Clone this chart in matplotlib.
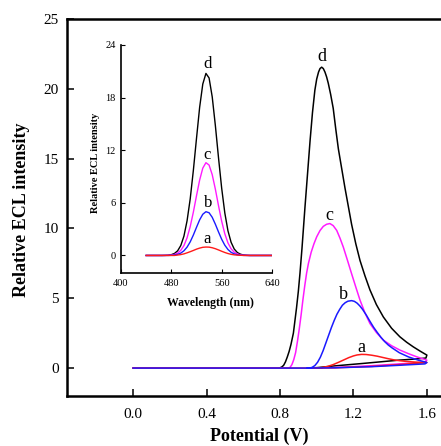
import numpy as np
import matplotlib
matplotlib.use("Agg")
import matplotlib.pyplot as plt

plt.rcParams['font.family'] = ['Liberation Serif', 'DejaVu Serif']

# ---- main panel: ECL intensity vs potential (forward scan then reverse scan)
pot_d = [0.0, 0.79, 0.80, 0.81, 0.82, 0.83, 0.84, 0.85, 0.86, 0.873, 0.89, 0.90, 0.909, 0.92,
         0.936, 0.95, 0.964, 0.977, 0.99, 1.0, 1.01, 1.018, 1.027, 1.036, 1.045, 1.054, 1.063,
         1.076, 1.09, 1.104, 1.118, 1.136, 1.154, 1.172, 1.19, 1.213, 1.236, 1.263, 1.29,
         1.325, 1.363, 1.408, 1.453, 1.49, 1.526, 1.565, 1.6,
         1.595, 1.55, 1.45, 1.35, 1.25, 1.11, 1.0, 0.95]
int_d = [0, 0, 0.02, 0.08, 0.2, 0.45, 0.8, 1.2, 1.7, 2.5, 4.3, 5.5, 6.8, 8.6,
         11.5, 13.9, 16.3, 18.3, 19.9, 20.7, 21.2, 21.45, 21.55, 21.45, 21.2, 20.85, 20.4,
         19.6, 18.6, 17.1, 15.7, 14.3, 12.9, 11.6, 10.3, 8.9, 7.7, 6.6, 5.6,
         4.55, 3.66, 2.85, 2.24, 1.85, 1.52, 1.2, 0.93,
         0.72, 0.66, 0.57, 0.45, 0.33, 0.17, 0.03, 0]

pot_c = [0.0, 0.845, 0.855, 0.865, 0.875, 0.885, 0.895, 0.905, 0.915, 0.925, 0.935, 0.945,
         0.955, 0.97, 0.985, 1.0, 1.018, 1.036, 1.054, 1.072, 1.09, 1.109, 1.127, 1.145,
         1.168, 1.19, 1.213, 1.236, 1.263, 1.29, 1.325, 1.363, 1.408, 1.453, 1.5, 1.544, 1.6,
         1.59, 1.45, 1.3, 1.1, 0.95]
int_c = [0, 0, 0.05, 0.25, 0.6, 1.1, 1.9, 2.8, 3.8, 4.9, 5.9, 6.8,
         7.5, 8.3, 8.9, 9.4, 9.85, 10.15, 10.3, 10.35, 10.2, 9.86, 9.3, 8.66,
         7.7, 6.76, 5.8, 4.86, 3.95, 3.19, 2.55, 2.0, 1.6, 1.29, 1.03, 0.81, 0.57,
         0.42, 0.3, 0.17, 0.04, 0]

pot_b = [0.0, 0.96, 0.975, 0.99, 1.005, 1.02, 1.035, 1.05, 1.065, 1.08, 1.095, 1.11, 1.125,
         1.14, 1.155, 1.17, 1.19, 1.205, 1.22, 1.235, 1.25, 1.27, 1.29, 1.31, 1.33, 1.35,
         1.37, 1.39, 1.41, 1.45, 1.5, 1.55, 1.6,
         1.59, 1.45, 1.3, 1.1, 0.95]
int_b = [0, 0, 0.05, 0.18, 0.42, 0.78, 1.25, 1.8, 2.35, 2.9, 3.4, 3.85, 4.2,
         4.5, 4.68, 4.79, 4.83, 4.78, 4.65, 4.45, 4.2, 3.8, 3.35, 2.92, 2.55, 2.2,
         1.9, 1.65, 1.45, 1.1, 0.8, 0.58, 0.4,
         0.3, 0.2, 0.1, 0.02, 0]

pot_a = [0.0, 1.0, 1.03, 1.06, 1.09, 1.12, 1.15, 1.175, 1.2, 1.22, 1.245, 1.27, 1.3, 1.33,
         1.36, 1.39, 1.42, 1.45, 1.5, 1.55, 1.6,
         1.45, 1.3, 1.1, 0.95]
int_a = [0, 0, 0.04, 0.12, 0.25, 0.42, 0.6, 0.75, 0.87, 0.94, 0.98, 0.97, 0.92, 0.85,
         0.76, 0.67, 0.59, 0.53, 0.46, 0.42, 0.4,
         0.25, 0.12, 0.02, 0]

# ---- inset: ECL spectra
wavelength = np.arange(440, 645, 5)
spec_d = [0, 0, 0, 0, 0, 0,
          0.01, 0.03, 0.09, 0.23, 0.53, 1.13, 2.2, 3.95, 6.45, 9.7, 13.35, 16.9, 19.55, 20.76,
          20.24, 18.08, 14.8, 11.13, 7.68, 4.85, 2.81, 1.5, 0.73, 0.33, 0.14, 0.05, 0.02,
          0, 0, 0, 0, 0, 0, 0, 0]
spec_c = [0, 0, 0, 0, 0, 0,
          0.01, 0.02, 0.05, 0.12, 0.27, 0.58, 1.12, 2.01, 3.29, 4.94, 6.81, 8.6, 9.96, 10.58,
          10.31, 9.21, 7.55, 5.67, 3.91, 2.47, 1.43, 0.76, 0.37, 0.17, 0.07, 0.03, 0.01,
          0, 0, 0, 0, 0, 0, 0, 0]
spec_b = [0, 0, 0, 0, 0, 0, 0, 0,
          0.02, 0.06, 0.13, 0.27, 0.53, 0.95, 1.55, 2.33, 3.21, 4.06, 4.7, 4.99,
          4.87, 4.35, 3.56, 2.68, 1.85, 1.17, 0.68, 0.36, 0.18, 0.08, 0.03, 0.01,
          0, 0, 0, 0, 0, 0, 0, 0, 0]
spec_a = [0, 0, 0, 0, 0, 0, 0, 0, 0, 0,
          0.05, 0.1, 0.18, 0.3, 0.43, 0.57, 0.72, 0.84, 0.93, 0.96,
          0.95, 0.88, 0.77, 0.63, 0.48, 0.34, 0.22, 0.13, 0.07, 0.04, 0.02,
          0, 0, 0, 0, 0, 0, 0, 0, 0, 0]

colors = {'a': '#ff1a1a', 'b': '#1a1aff', 'c': '#ff1aff', 'd': 'black'}

fig = plt.figure(figsize=(4.41, 4.46), dpi=100)

ax = fig.add_axes([67 / 441, 50 / 446, 374 / 441, 377 / 446])
ax.plot(pot_d, int_d, color=colors['d'], lw=1.1)
ax.plot(pot_c, int_c, color=colors['c'], lw=1.1)
ax.plot(pot_a, int_a, color=colors['a'], lw=1.1)
ax.plot(pot_b, int_b, color=colors['b'], lw=1.1)
ax.set_xlim(-0.36, 1.677)
ax.set_ylim(-2, 25)
ax.set_xticks([0.0, 0.4, 0.8, 1.2, 1.6])
ax.set_xticklabels(['0.0', '0.4', '0.8', '1.2', '1.6'])
ax.set_yticks([0, 5, 10, 15, 20, 25])
ax.spines['right'].set_visible(False)
for s in ['left', 'bottom', 'top']:
    ax.spines[s].set_linewidth(1.8)
ax.tick_params(direction='in', length=5, width=1.1, labelsize=11)
ax.tick_params(axis='x', pad=9)
ax.tick_params(axis='y', pad=6)
ax.set_xlabel('Potential (V)', fontsize=13, fontweight='bold')
ax.set_ylabel('Relative ECL intensity', fontsize=13, fontweight='bold')
ax.xaxis.set_label_coords(0.513, -0.085)
ax.yaxis.set_label_coords(-0.099, 0.493)

ax.text(1.027, 22.3, 'd', fontsize=13, ha='center', va='center')
ax.text(1.067, 10.9, 'c', fontsize=13, ha='center', va='center')
ax.text(1.145, 5.3, 'b', fontsize=13, ha='center', va='center')
ax.text(1.241, 1.5, 'a', fontsize=13, ha='center', va='center')

# inset
ins = fig.add_axes([121 / 441, 173 / 446, 151 / 441, 228 / 446])
ins.plot(wavelength, spec_d, color=colors['d'], lw=1.0)
ins.plot(wavelength, spec_c, color=colors['c'], lw=1.0)
ins.plot(wavelength, spec_b, color=colors['b'], lw=1.0)
ins.plot(wavelength, spec_a, color=colors['a'], lw=1.0)
ins.set_xlim(400, 640)
ins.set_ylim(-2, 24)
ins.set_xticks([400, 480, 560, 640])
ins.set_yticks([0, 6, 12, 18, 24])
ins.spines['right'].set_visible(False)
ins.spines['top'].set_visible(False)
for s in ['left', 'bottom']:
    ins.spines[s].set_linewidth(1.2)
ins.tick_params(direction='in', length=3, width=0.8, labelsize=7.5, pad=4)
ins.set_xlabel('Wavelength (nm)', fontsize=8.5, fontweight='bold')
ins.set_ylabel('Relative ECL intensity', fontsize=7.5, fontweight='bold')
ins.xaxis.set_label_coords(0.59, -0.105)
ins.yaxis.set_label_coords(-0.139, 0.485)

ins.text(537, 21.8, 'd', fontsize=12, ha='center', va='center')
ins.text(537, 11.4, 'c', fontsize=12, ha='center', va='center')
ins.text(538, 6.0, 'b', fontsize=12, ha='center', va='center')
ins.text(537, 1.9, 'a', fontsize=12, ha='center', va='center')

fig.savefig('out.png', dpi=100)
